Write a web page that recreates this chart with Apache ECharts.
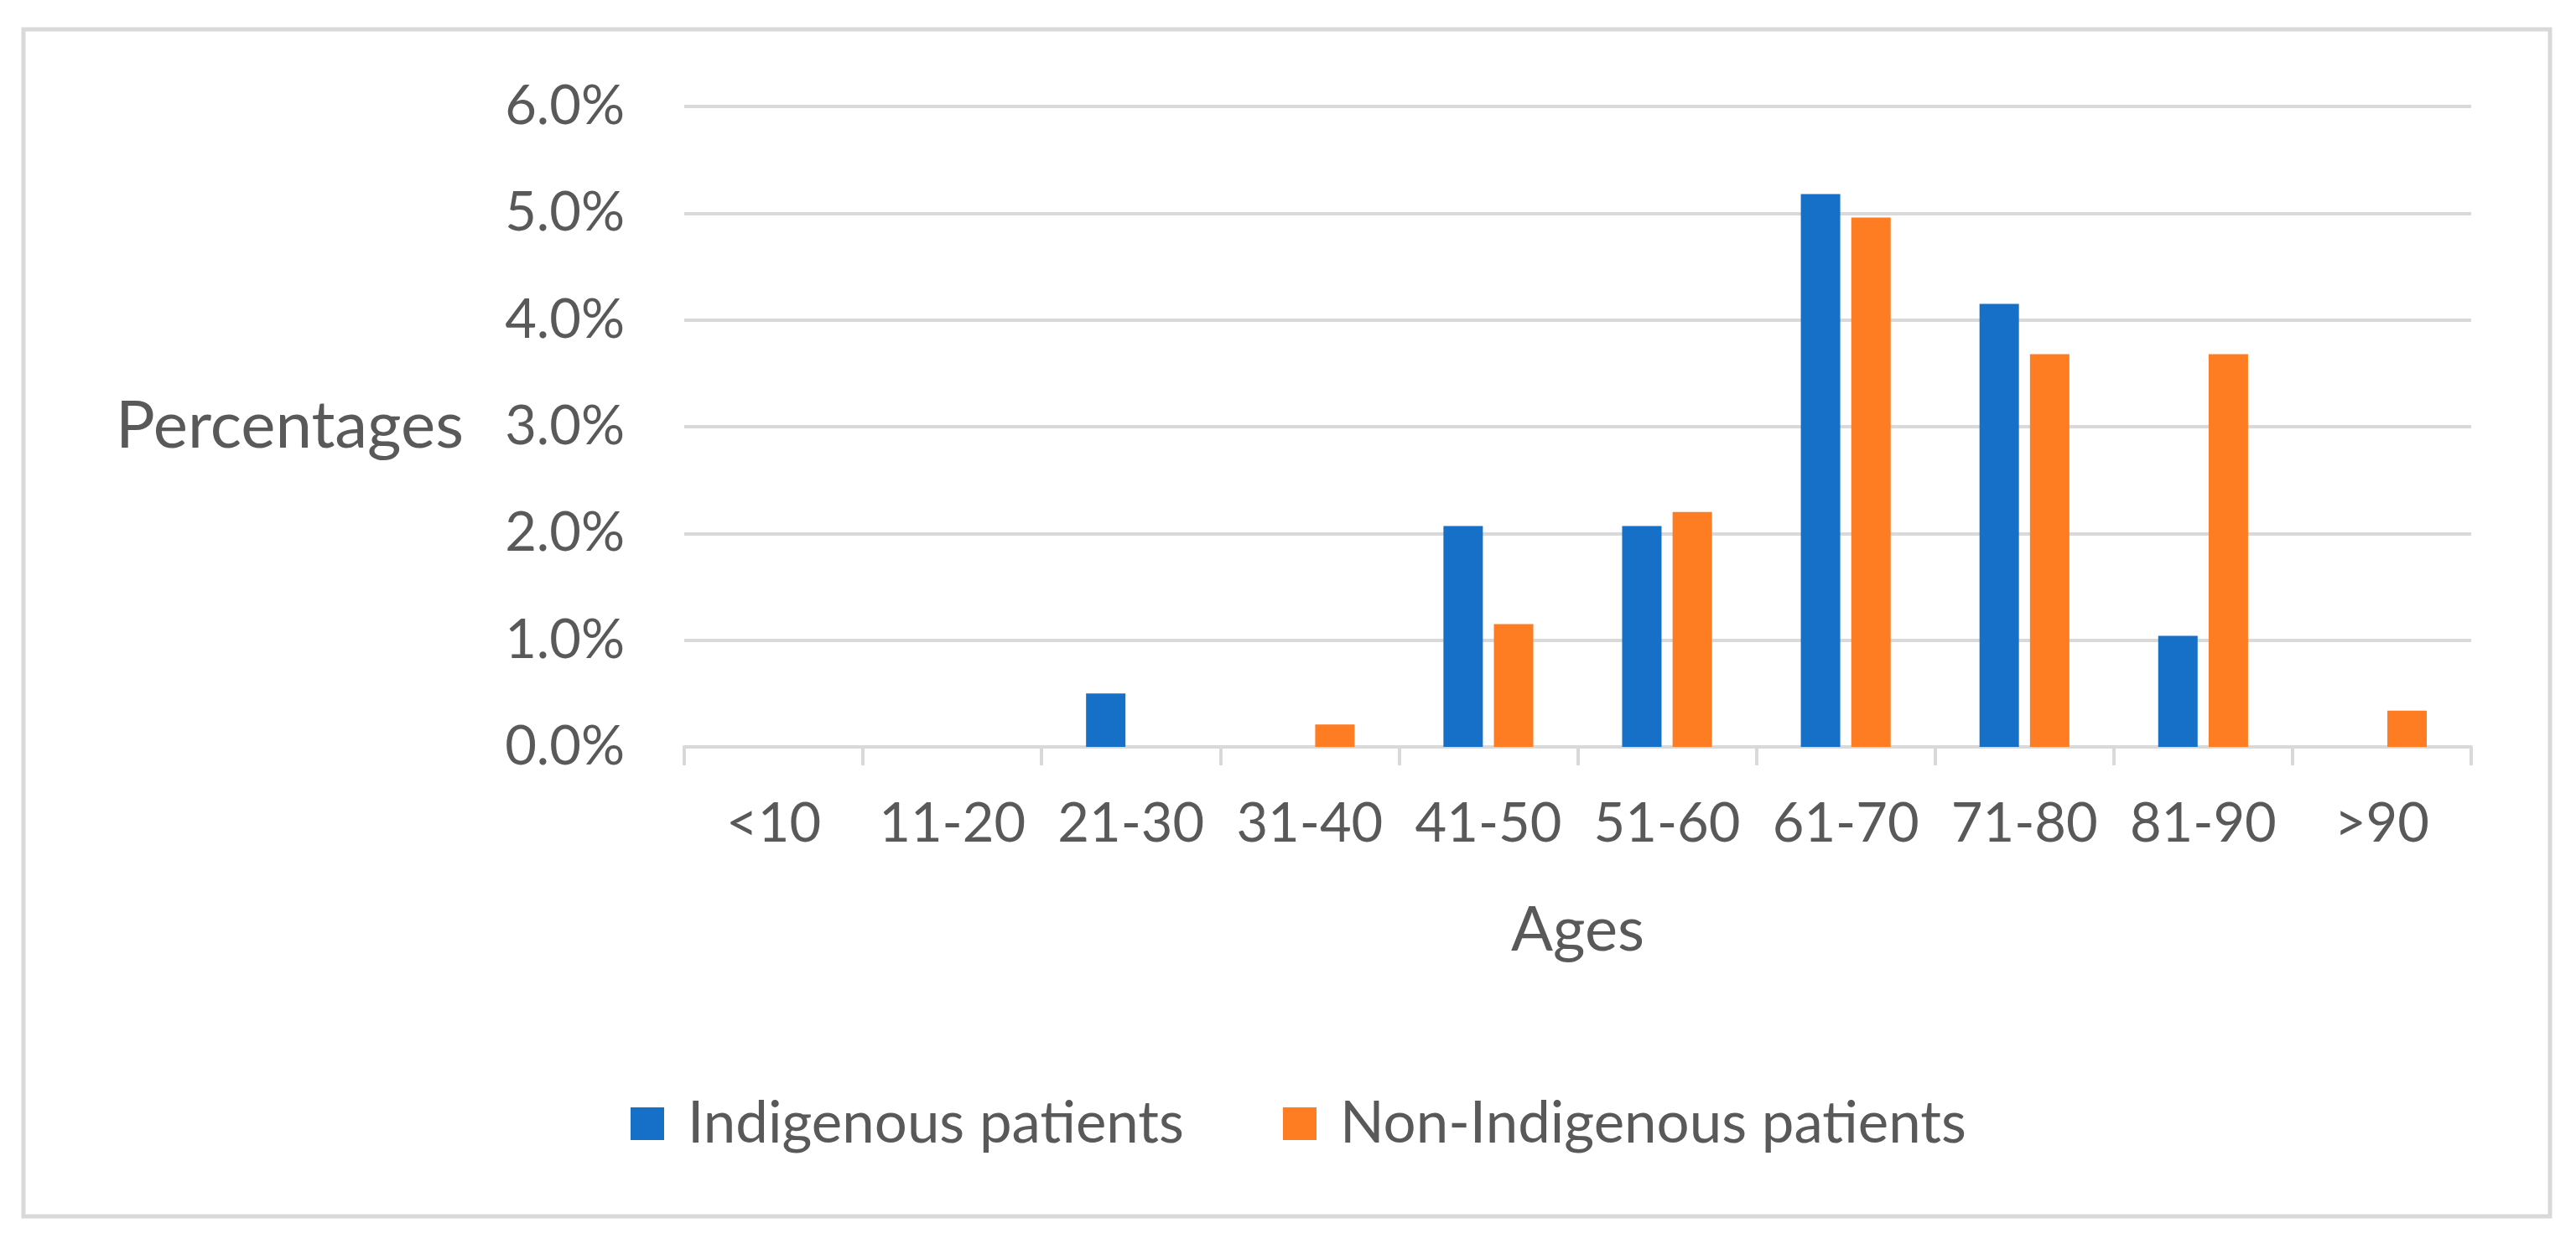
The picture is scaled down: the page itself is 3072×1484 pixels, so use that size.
<!DOCTYPE html>
<html>
<head>
<meta charset="utf-8">
<script src="https://cdn.jsdelivr.net/npm/echarts@6/dist/echarts.min.js"></script>
<style>
html,body{margin:0;padding:0;background:#fff;}
#chart{width:3072px;height:1484px;}
</style>
</head>
<body>
<div id="chart"></div>
<script>
var categories = ['<10','11-20','21-30','31-40','41-50','51-60','61-70','71-80','81-90','>90'];
var indigenous = [0, 0, 0.5, 0, 2.07, 2.07, 5.18, 4.15, 1.04, 0];
var nonIndigenous = [0, 0, 0, 0.21, 1.15, 2.2, 4.96, 3.68, 3.68, 0.34];
var seriesNames = ['Indigenous patients', 'Non-Indigenous patients'];
var yTicks = [0, 1, 2, 3, 4, 5, 6];

var FONT = 'Lato';
var TXT = '#595959';
var GRID = '#d9d9d9';

var chart = echarts.init(document.getElementById('chart'), null, {renderer: 'canvas'});
chart.setOption({
  backgroundColor: '#ffffff',
  animation: false,
  textStyle: {fontFamily: FONT},
  graphic: [{
    type: 'rect',
    shape: {x: 28, y: 35, width: 3013, height: 1416},
    style: {fill: 'none', stroke: GRID, lineWidth: 5},
    silent: true
  }],
  grid: {left: 816, right: 125, top: 127, bottom: 593, containLabel: false},
  legend: {
    data: seriesNames,
    left: 752,
    top: 1306,
    padding: 0,
    icon: 'rect',
    itemWidth: 40,
    itemHeight: 39,
    itemGap: 118,
    textStyle: {fontFamily: FONT, fontSize: 69, color: TXT, padding: [0, 0, 0, 23]}
  },
  xAxis: {
    type: 'category',
    data: categories,
    name: 'Ages',
    nameLocation: 'middle',
    nameGap: 182,
    nameTextStyle: {fontFamily: FONT, fontSize: 74, color: TXT},
    axisLine: {lineStyle: {color: GRID, width: 4}},
    axisTick: {show: true, length: 22, lineStyle: {color: GRID, width: 4}},
    axisLabel: {fontFamily: FONT, fontSize: 65, color: TXT, margin: 60, interval: 0}
  },
  yAxis: {
    type: 'value',
    min: yTicks[0],
    max: yTicks[yTicks.length - 1],
    interval: 1,
    name: 'Percentages',
    nameLocation: 'middle',
    nameRotate: 0,
    nameGap: 263,
    nameTextStyle: {fontFamily: FONT, fontSize: 78, color: TXT},
    axisLine: {show: false},
    axisTick: {show: false},
    splitLine: {lineStyle: {color: GRID, width: 4}},
    axisLabel: {
      fontFamily: FONT, fontSize: 65, color: TXT, margin: 71,
      formatter: function (v) { return v.toFixed(1) + '%'; }
    }
  },
  series: [{
    name: seriesNames[0],
    type: 'bar',
    data: indigenous,
    barWidth: 47,
    barGap: '28%',
    itemStyle: {color: '#1670C8'}
  }, {
    name: seriesNames[1],
    type: 'bar',
    data: nonIndigenous,
    barWidth: 47,
    barGap: '28%',
    itemStyle: {color: '#FE7D22'}
  }]
});
</script>
</body>
</html>
